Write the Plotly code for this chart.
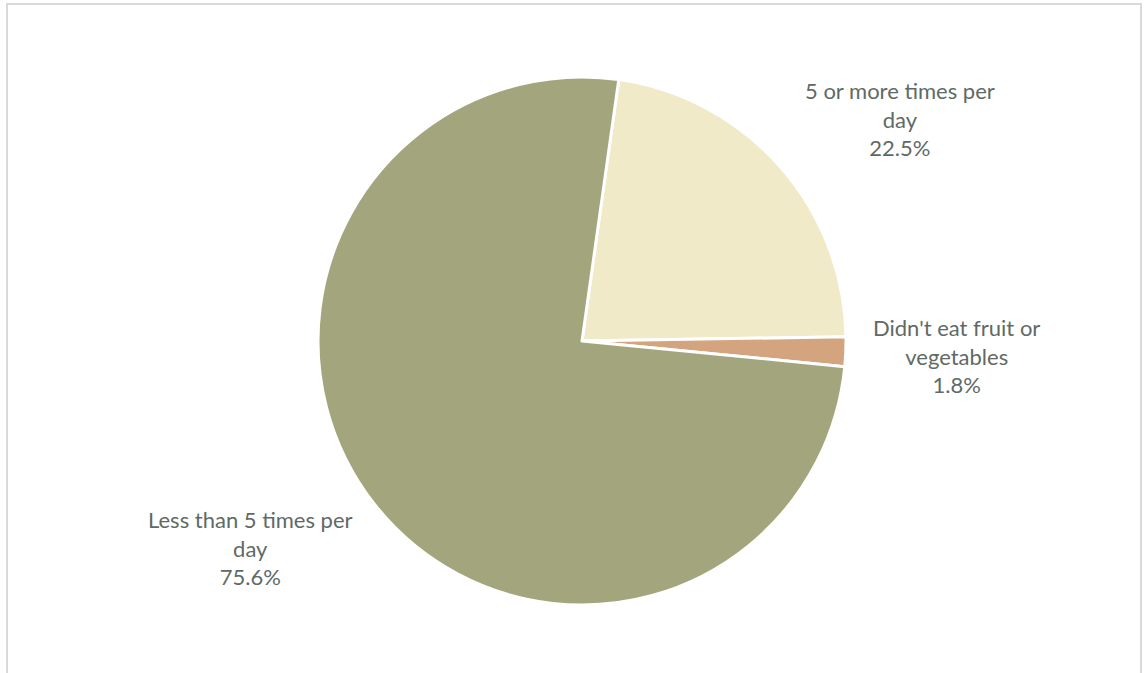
import plotly.graph_objects as go

categories = ["5 or more times per<br>day", "Didn't eat fruit or<br>vegetables", "Less than 5 times per<br>day"]
values = [22.5, 1.8, 75.6]
colors = ["#F0EAC8", "#D3A47D", "#A3A57D"]

W, H = 1145, 673
fig = go.Figure()
fig.add_trace(go.Pie(
    labels=categories,
    values=values,
    sort=False,
    direction="clockwise",
    rotation=8,
    marker=dict(colors=colors, line=dict(color="white", width=3)),
    textinfo="none",
    hoverinfo="label+percent",
    showlegend=False,
    domain=dict(x=[0.2777, 0.7389], y=[0.101, 0.8855]),
))

label_pos = [(900, 119), (956, 356), (250, 548)]
for cat, val, (px, py) in zip(categories, values, label_pos):
    fig.add_annotation(
        x=px / W, y=1 - py / H, xref="paper", yref="paper",
        text=f"{cat}<br>{val:.1f}%", showarrow=False,
        xanchor="center", yanchor="middle",
        font=dict(family="Lato, Open Sans, sans-serif", size=22, color="#5f6a66"),
        align="center",
    )

fig.add_shape(type="rect", xref="paper", yref="paper",
              x0=7 / W, x1=1141 / W, y0=-0.02, y1=1 - 4 / H,
              line=dict(color="#d9d9d9", width=2))

fig.update_layout(
    width=W, height=H,
    margin=dict(l=0, r=0, t=0, b=0),
    paper_bgcolor="white", plot_bgcolor="white",
)
fig.write_html("out.html", config={"displayModeBar": False},
               post_script="document.body.style.margin='0';document.body.style.overflow='hidden';")
